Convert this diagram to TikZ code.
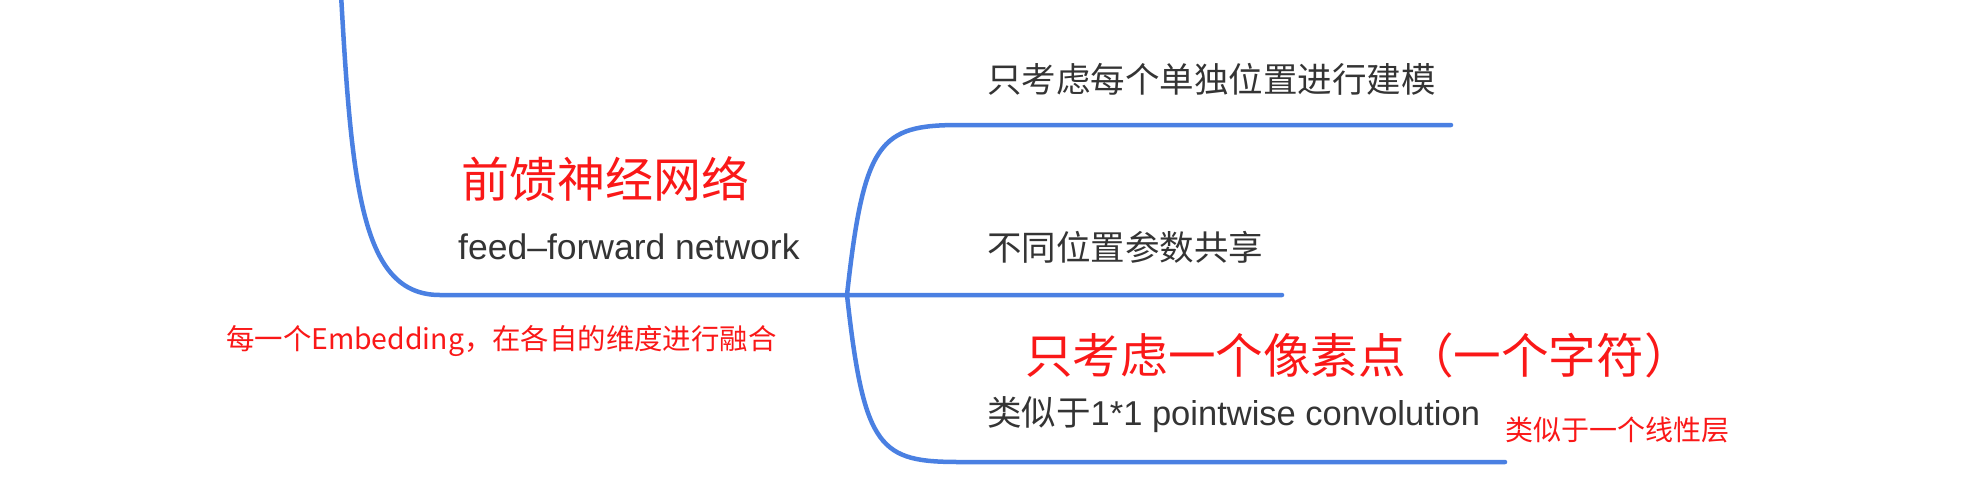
\documentclass[tikz,border=0pt]{standalone}
\usepackage{fontspec}
\setmainfont{Liberation Sans}
\newfontfamily\cjk{Noto Sans CJK SC}
\definecolor{lineblue}{RGB}{74,128,226}
\definecolor{notered}{RGB}{250,24,24}
\definecolor{txtgray}{RGB}{52,52,52}
\begin{document}
\begin{tikzpicture}[x=1pt,y=-1pt,
  branch/.style={draw=lineblue,line width=4.5pt,line cap=round},
  redtxt/.style={text=notered,inner sep=0pt,anchor=west},
  graytxt/.style={text=txtgray,inner sep=0pt,anchor=west,font=\fontsize{34.5}{40}\selectfont}]
\useasboundingbox[fill=white] (0,0) rectangle (1967,499);
% connector points
\coordinate (top) at (341,-6);
\coordinate (lc) at (440,295);
\coordinate (j) at (847,295);
\coordinate (midend) at (1282,295);
\coordinate (ub) at (960,125);
\coordinate (upend) at (1451,125);
\coordinate (lb) at (960,462);
\coordinate (lowend) at (1505,462);
% branches
\draw[branch] (top) .. controls (352,190) and (362,295) .. (lc) -- (j) -- (midend);
\draw[branch] (j) .. controls (864,140) and (880,125) .. (ub) -- (upend);
\draw[branch] (j) .. controls (864,450) and (880,462) .. (lb) -- (lowend);
% texts
\node[redtxt,font=\cjk\fontsize{48}{52}\selectfont] (ffncn) at (461,179) {前馈神经网络};
\node[graytxt,font=\fontsize{35.5}{40}\selectfont] (ffnen) at (458,247) {feed–forward network};
\node[graytxt] (t1) at (987,79) {\cjk 只考虑每个单独位置进行建模};
\node[graytxt] (t2) at (987,247) {\cjk 不同位置参数共享};
\node[graytxt] (t3) at (987,415) {{\cjk 类似于}1*1 pointwise convolution};
\node[redtxt,font=\cjk\fontsize{28.4}{32}\selectfont] (n1) at (226,341) {每一个Embedding，在各自的维度进行融合};
\node[redtxt,font=\cjk\fontsize{47.6}{52}\selectfont] (n2) at (1025,355) {只考虑一个像素点（一个字符）};
\node[redtxt,font=\cjk\fontsize{28}{32}\selectfont] (n3) at (1505,430) {类似于一个线性层};
\end{tikzpicture}
\end{document}
